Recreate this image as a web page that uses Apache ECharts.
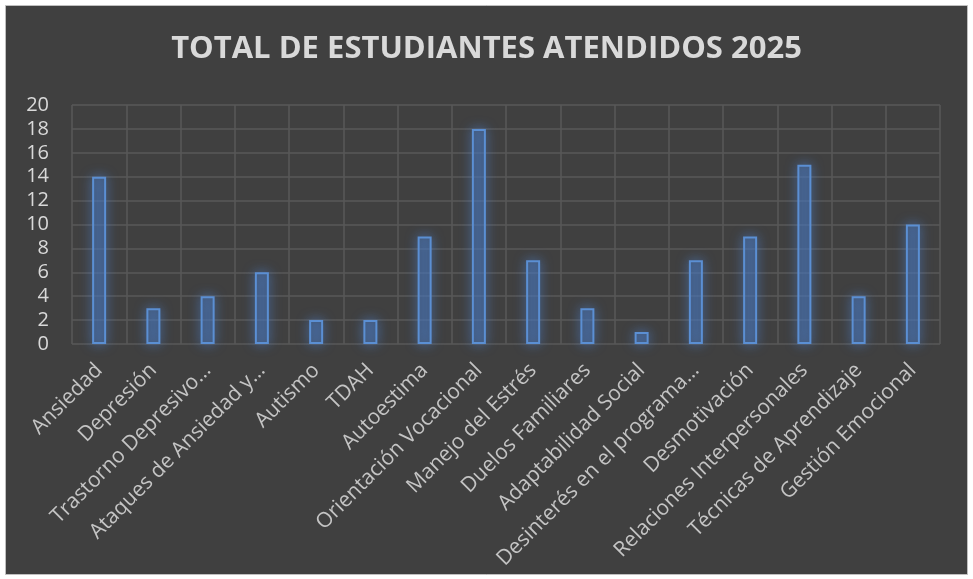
<!DOCTYPE html>
<html><head><meta charset="utf-8">
<script src="https://cdn.jsdelivr.net/npm/echarts@6/dist/echarts.min.js"></script>
<style>html,body{margin:0;padding:0;background:#fff;}#c{width:973px;height:579px;}</style>
</head><body><div id="c"></div>
<script>
const categories = ["Ansiedad","Depresión","Trastorno Depresivo…","Ataques de Ansiedad y…","Autismo","TDAH","Autoestima","Orientación Vocacional","Manejo del Estrés","Duelos Familiares","Adaptabilidad Social","Desinterés en el programa…","Desmotivación","Relaciones Interpersonales","Técnicas de Aprendizaje","Gestión Emocional"];
const values = [14,3,4,6,2,2,9,18,7,3,1,7,9,15,4,10];
const titleText = "TOTAL DE ESTUDIANTES ATENDIDOS 2025";

const chart = echarts.init(document.getElementById('c'), null, {renderer:'canvas'});
chart.setOption({
  backgroundColor: '#ffffff',
  graphic: [{type:'rect', shape:{x:5.5,y:5.5,width:962,height:569}, style:{fill:'#404040', stroke:'#bfbfbf', lineWidth:1}, z:-10, silent:true}],
  title: {text: titleText, left:'center', top:29, textStyle:{color:'#d9d9d9', fontSize:31, fontWeight:'bold', fontFamily:'Open Sans'}},
  grid: {left:72, right:33, top:105, bottom:235, containLabel:false},
  xAxis: {type:'category', data:categories,
    axisLine:{show:false}, axisTick:{show:false},
    splitLine:{show:true, lineStyle:{color:'#595959', width:1.5}},
    axisLabel:{interval:0, rotate:45, color:'#c4c4c4', fontSize:21, fontFamily:'Open Sans', margin:23}},
  yAxis: {type:'value', min:0, max:20, interval:2,
    axisLine:{show:false}, axisTick:{show:false},
    splitLine:{lineStyle:{color:'#595959', width:1.5}},
    axisLabel:{color:'#d9d9d9', fontSize:20, fontFamily:'Open Sans', margin:23}},
  series: [{type:'bar', data:values, barWidth:14,
    itemStyle:{color:'rgba(70,110,170,0.4)', borderColor:'#5b8fd3', borderWidth:2, shadowColor:'rgba(80,140,230,0.8)', shadowBlur:12}}],
  animation:false
});
</script></body></html>
